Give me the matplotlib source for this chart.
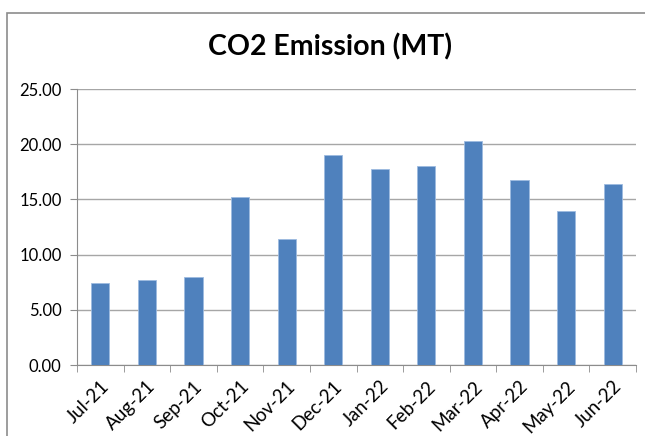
import matplotlib
matplotlib.use("Agg")
import matplotlib.pyplot as plt
from matplotlib.patches import Rectangle

months = ["Jul-21", "Aug-21", "Sep-21", "Oct-21", "Nov-21", "Dec-21",
          "Jan-22", "Feb-22", "Mar-22", "Apr-22", "May-22", "Jun-22"]
emissions = [7.45, 7.71, 7.95, 15.22, 11.45, 19.05,
             17.72, 18.02, 20.29, 16.76, 13.95, 16.40]
y_ticks = [0, 5, 10, 15, 20, 25]

W, H = 645, 436
fig = plt.figure(figsize=(W / 100, H / 100), dpi=100)
plt.rcParams['font.family'] = ['Lato', 'DejaVu Sans']

# outer chart frame
fig.patches.append(Rectangle((7 / W, -0.1), 1.1, (H - 13) / H + 0.1,
                             transform=fig.transFigure, fill=False,
                             edgecolor="#8c8c8c", linewidth=1.2))

ax = fig.add_axes([77 / W, (H - 365) / H, (636 - 77) / W, (365 - 89) / H])
x = list(range(len(months)))
ax.bar(x, emissions, width=0.39, color="#4F81BD", edgecolor="#9dbbe0",
       linewidth=0.6, zorder=3)

ax.set_xlim(-0.5, len(months) - 0.5)
ax.set_ylim(0, 25)
ax.set_yticks(y_ticks)
ax.set_yticklabels([f"{v:.2f}" for v in y_ticks], fontsize=12)
ax.yaxis.grid(True, color="#a6a6a6", linewidth=1, zorder=0)

ax.set_xticks(x)
ax.set_xticklabels(months, rotation=45, ha="right", rotation_mode="anchor",
                   fontsize=13.5)
ax.set_xticks([i - 0.5 for i in range(len(months) + 1)], minor=True)
ax.tick_params(axis="x", which="major", length=0, pad=9)
ax.tick_params(axis="x", which="minor", length=5, color="#8c8c8c")
ax.tick_params(axis="y", length=5, color="#8c8c8c", pad=6)

for s in ["top", "right"]:
    ax.spines[s].set_visible(False)
for s in ["left", "bottom"]:
    ax.spines[s].set_color("#8c8c8c")

fig.text(330 / W, 1 - 47 / H, "CO2 Emission (MT)", ha="center", va="center",
         fontsize=20.5, fontweight="bold")

fig.savefig("out.png", dpi=100)
